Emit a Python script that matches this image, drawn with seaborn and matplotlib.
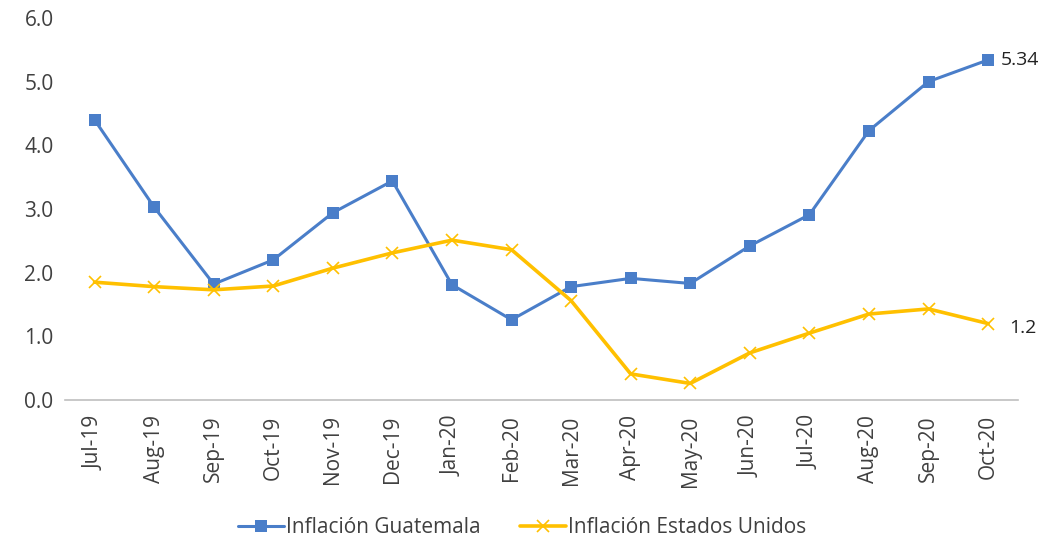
import pandas as pd
import matplotlib.pyplot as plt
import seaborn as sns

months = ['Jul-19', 'Aug-19', 'Sep-19', 'Oct-19', 'Nov-19', 'Dec-19', 'Jan-20', 'Feb-20',
          'Mar-20', 'Apr-20', 'May-20', 'Jun-20', 'Jul-20', 'Aug-20', 'Sep-20', 'Oct-20']
guatemala = [4.40, 3.03, 1.82, 2.20, 2.94, 3.44, 1.81, 1.26,
             1.78, 1.91, 1.83, 2.42, 2.91, 4.23, 5.00, 5.34]
usa = [1.85, 1.78, 1.73, 1.79, 2.07, 2.31, 2.51, 2.36,
       1.56, 0.41, 0.26, 0.74, 1.05, 1.35, 1.43, 1.20]
series_names = ['Inflación Guatemala', 'Inflación Estados Unidos']

sns.set_theme(style="white")
plt.rcParams['font.family'] = ['Open Sans', 'DejaVu Sans']

df = pd.DataFrame({'mes': months, 'gt': guatemala, 'us': usa})
df['pos'] = range(len(months))

fig = plt.figure(figsize=(10.44, 5.42), dpi=100)
ax = fig.add_axes([0.062, 0.262, 0.913, 0.705])

blue = '#4A7EC9'
gold = '#FFC000'
sns.lineplot(data=df, x='pos', y='gt', ax=ax, color=blue, linewidth=2.2,
             marker='s', markersize=8.5, markeredgewidth=0, label=series_names[0])
sns.lineplot(data=df, x='pos', y='us', ax=ax, color=gold, linewidth=2.6,
             marker='x', markersize=8.5, markeredgewidth=1.2, markeredgecolor=gold,
             label=series_names[1])

ax.set_xlim(-0.5, len(months) - 0.5)
ax.set_ylim(0, 6)
ax.set_yticks([0, 1, 2, 3, 4, 5, 6])
ax.set_yticklabels([f'{v:.1f}' for v in range(7)], fontsize=15, color='#404040')
ax.set_xticks(df['pos'])
ax.set_xticklabels(months, rotation=90, fontsize=15, color='#404040')
ax.tick_params(axis='y', length=0, pad=8)
ax.tick_params(axis='x', length=0, pad=11)
ax.set_xlabel('')
ax.set_ylabel('')

for s in ['top', 'right', 'left']:
    ax.spines[s].set_visible(False)
ax.spines['bottom'].set_color('#BFBFBF')
ax.spines['bottom'].set_linewidth(1.2)

# etiquetas del último dato
ax.annotate(f'{guatemala[-1]:.2f}', (df['pos'].iloc[-1], guatemala[-1]), xytext=(9, 0),
            textcoords='offset points', va='center', ha='left', fontsize=14,
            color='#222222')
ax.annotate(f'{usa[-1]:.1f}', (df['pos'].iloc[-1], usa[-1]), xytext=(15, -3),
            textcoords='offset points', va='center', ha='left', fontsize=14,
            color='#222222')

handles, labels = ax.get_legend_handles_labels()
ax.get_legend().remove()
fig.legend(handles, labels, loc='center', bbox_to_anchor=(0.5, 0.026), ncol=2, frameon=False,
           fontsize=15, handlelength=2.2, handletextpad=0.1, columnspacing=1.9,
           labelcolor='#404040')

fig.savefig('out.png', dpi=100)
